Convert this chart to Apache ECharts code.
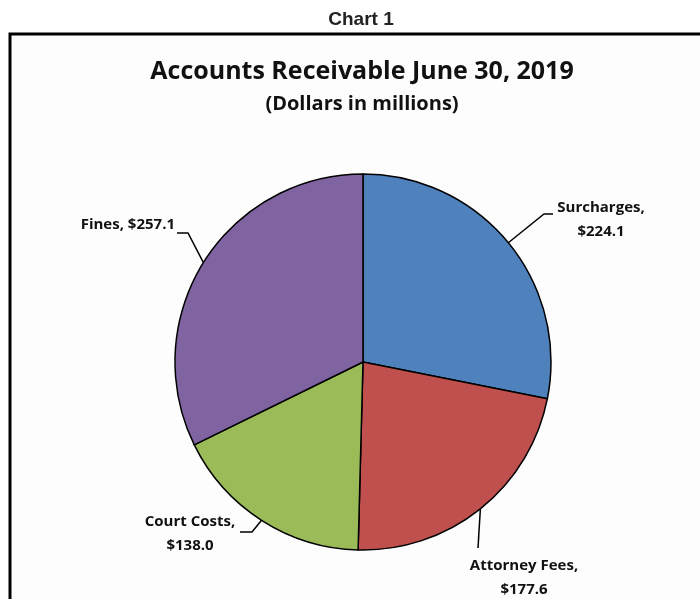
<!DOCTYPE html>
<html>
<head>
<meta charset="utf-8">
<script src="https://cdn.jsdelivr.net/npm/echarts@6/dist/echarts.min.js"></script>
<style>
  html, body { margin: 0; padding: 0; background: #fff; }
  #chart { width: 700px; height: 599px; }
</style>
</head>
<body>
<div id="chart"></div>
<script>
// data
const categories = ["Surcharges", "Attorney Fees", "Court Costs", "Fines"]
const values = [224.1, 177.6, 138.0, 257.1]
const colors = ["#4F81BD", "#C0504D", "#9BBB59", "#8064A2"]

// label anchor + leader elbows, relative to anchor
const labelSpots = [
  { x: 601, y: 220, align: "center", elbow: [[-57, -6], [-48, -6]] },
  { x: 524, y: 578, align: "center", elbow: [[-46, -30], [-46, -30]] },
  { x: 190, y: 534, align: "center", elbow: [[62, -2], [50, -2]] },
  { x: 175, y: 225, align: "right", elbow: [[13, 8], [2, 8]] },
]

const myChart = echarts.init(document.getElementById("chart"))

const option = {
  animation: false,
  graphic: [
    {
      type: "rect",
      shape: { x: 10, y: 34, width: 720, height: 600 },
      style: { fill: "#fdfdfd", stroke: "#000", lineWidth: 3 },
      z: -1,
    },
    {
      type: "text",
      x: 361,
      y: 20,
      style: {
        text: "Chart 1",
        font: "bold 19px 'Liberation Sans'",
        fill: "#222",
        textAlign: "center",
        textVerticalAlign: "middle",
      },
    },
    {
      type: "text",
      x: 362,
      y: 72,
      style: {
        text: "Accounts Receivable June 30, 2019",
        font: "bold 25px 'Open Sans'",
        fill: "#111",
        textAlign: "center",
        textVerticalAlign: "middle",
      },
    },
    {
      type: "text",
      x: 362,
      y: 104,
      style: {
        text: "(Dollars in millions)",
        font: "bold 20px 'Open Sans'",
        fill: "#111",
        textAlign: "center",
        textVerticalAlign: "middle",
      },
    },
  ],
  series: [
    {
      type: "pie",
      center: [363, 362],
      radius: 188,
      startAngle: 90,
      clockwise: true,
      data: categories.map((name, i) => ({
        name,
        value: values[i],
        itemStyle: { color: colors[i] },
      })),
      itemStyle: { borderColor: "#000", borderWidth: 1.5 },
      label: {
        show: true,
        position: "outside",
        color: "#111",
        fontFamily: "Open Sans",
        fontWeight: "bold",
        fontSize: 15,
        lineHeight: 24,
        formatter: (p) =>
          p.dataIndex === 3
            ? p.name + ", $" + p.value.toFixed(1)
            : p.name + ",\n$" + p.value.toFixed(1),
      },
      labelLine: {
        show: true,
        length: 15,
        length2: 10,
        lineStyle: { color: "#000", width: 1.5 },
      },
      labelLayout: (params) => {
        const s = labelSpots[params.dataIndex]
        const pts = params.labelLinePoints
        const start = pts && pts[0] ? pts[0] : [s.x, s.y]
        return {
          x: s.x,
          y: s.y,
          align: s.align,
          verticalAlign: "middle",
          labelLinePoints: [
            start,
            [s.x + s.elbow[0][0], s.y + s.elbow[0][1]],
            [s.x + s.elbow[1][0], s.y + s.elbow[1][1]],
          ],
        }
      },
      emphasis: { disabled: true },
    },
  ],
}

myChart.setOption(option)
</script>
</body>
</html>
